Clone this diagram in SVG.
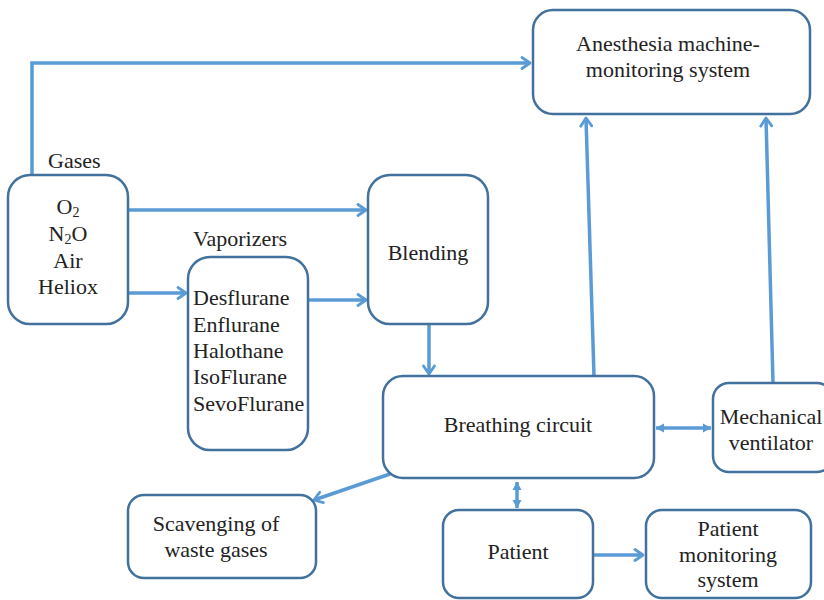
<svg xmlns="http://www.w3.org/2000/svg" width="824" height="600" viewBox="0 0 824 600">
<defs>
<marker id="ah" viewBox="0 0 14 14" refX="12" refY="7" markerWidth="14" markerHeight="14" markerUnits="userSpaceOnUse" orient="auto-start-reverse">
<path d="M4,1.5 L12,7 L4,12.5" fill="none" stroke="#5B9BD5" stroke-width="2.8" stroke-linecap="round" stroke-linejoin="round"/>
</marker>
<marker id="tri" viewBox="0 0 10 10" refX="9" refY="5" markerWidth="10" markerHeight="10" markerUnits="userSpaceOnUse" orient="auto-start-reverse">
<path d="M1,0.5 L9.5,5 L1,9.5 Z" fill="#5B9BD5"/>
</marker>
</defs>
<style>
text{font-family:"Liberation Serif","DejaVu Serif",serif;font-size:22px;fill:#222}
.t{text-anchor:middle}
.box{fill:#fff;stroke:#41719C;stroke-width:2.5}
.c{fill:none;stroke:#5B9BD5;stroke-width:3.5}
</style>
<rect width="824" height="600" fill="#fff"/>
<g id="connectors">
<polyline class="c" points="32,175 32,63 530,63" marker-end="url(#ah)"/>
<line class="c" x1="128" y1="210" x2="366" y2="210" marker-end="url(#ah)"/>
<line class="c" x1="128" y1="293" x2="186" y2="293" marker-end="url(#ah)"/>
<line class="c" x1="308" y1="300" x2="366" y2="300" marker-end="url(#ah)"/>
<line class="c" x1="429" y1="324" x2="429" y2="374" marker-end="url(#ah)"/>
<line class="c" x1="594" y1="376" x2="586" y2="118" marker-end="url(#ah)"/>
<line class="c" x1="773" y1="383" x2="766" y2="118" marker-end="url(#ah)"/>
<line class="c" x1="656" y1="428" x2="711" y2="428" marker-start="url(#tri)" marker-end="url(#tri)"/>
<line class="c" x1="390" y1="474" x2="314" y2="500" marker-end="url(#ah)"/>
<line class="c" x1="517" y1="482" x2="517" y2="508" stroke-width="3" marker-start="url(#tri)" marker-end="url(#tri)"/>
<line class="c" x1="593" y1="555" x2="643" y2="555" marker-end="url(#ah)"/>
</g>
<g id="gases">
<rect class="box" x="8" y="175" width="120" height="149" rx="22"/>
<text x="48" y="168" font-size="21">Gases</text>
<text class="t" x="68" y="214">O<tspan font-size="14" dy="3">2</tspan></text>
<text class="t" x="68" y="241">N<tspan font-size="14" dy="3">2</tspan><tspan dy="-3">O</tspan></text>
<text class="t" x="68" y="268">Air</text>
<text class="t" x="68" y="294">Heliox</text>
</g>
<g id="vaporizers">
<rect class="box" x="188" y="257" width="120" height="193" rx="22"/>
<text x="193" y="246">Vaporizers</text>
<text x="193" y="305">Desflurane</text>
<text x="193" y="332">Enflurane</text>
<text x="193" y="358">Halothane</text>
<text x="193" y="384">IsoFlurane</text>
<text x="193" y="411">SevoFlurane</text>
</g>
<g id="blending">
<rect class="box" x="368" y="175" width="120" height="149" rx="22"/>
<text class="t" x="428" y="260">Blending</text>
</g>
<g id="anesthesia">
<rect class="box" x="533" y="10" width="277" height="104" rx="20"/>
<text class="t" x="668" y="51">Anesthesia machine-</text>
<text class="t" x="668" y="77">monitoring system</text>
</g>
<g id="breathing">
<rect class="box" x="383" y="376" width="271" height="102" rx="20"/>
<text class="t" x="518" y="432">Breathing circuit</text>
</g>
<g id="ventilator">
<rect class="box" x="713" y="383" width="120" height="89" rx="16"/>
<text class="t" x="771" y="424" font-size="21">Mechanical</text>
<text class="t" x="771" y="450" font-size="21">ventilator</text>
</g>
<g id="scavenging">
<rect class="box" x="128" y="495" width="188" height="83" rx="16"/>
<text class="t" x="216" y="531">Scavenging of</text>
<text class="t" x="216" y="557">waste gases</text>
</g>
<g id="patient">
<rect class="box" x="443" y="510" width="150" height="88" rx="16"/>
<text class="t" x="518" y="559">Patient</text>
</g>
<g id="patient-monitoring">
<rect class="box" x="646" y="510" width="165" height="88" rx="16"/>
<text class="t" x="728" y="536">Patient</text>
<text class="t" x="728" y="562">monitoring</text>
<text class="t" x="728" y="587">system</text>
</g>
</svg>
